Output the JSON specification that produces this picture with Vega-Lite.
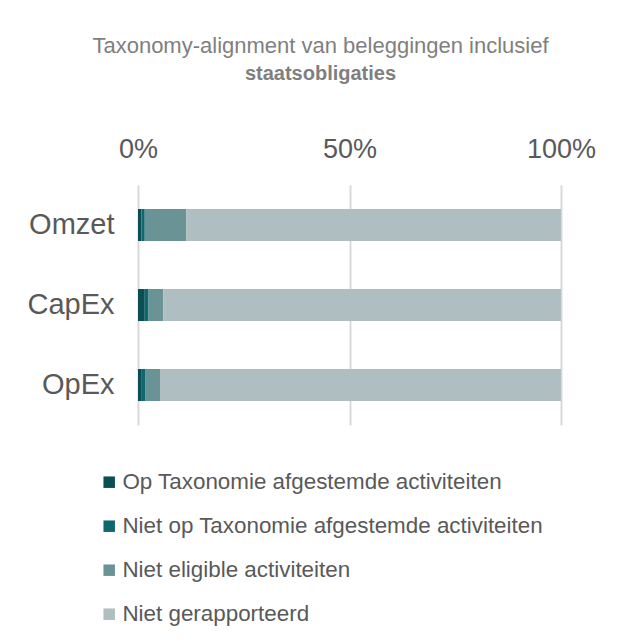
{
  "$schema": "https://vega.github.io/schema/vega-lite/v6.json",
  "autosize": "none",
  "width": 423,
  "height": 240,
  "padding": {"left": 138, "top": 185, "right": 68, "bottom": 218},
  "background": "white",
  "title": {
    "text": "Taxonomy-alignment van beleggingen inclusief",
    "subtitle": "staatsobligaties",
    "anchor": "middle",
    "frame": "group",
    "dx": -29,
    "font": "Arial",
    "fontSize": 22,
    "fontWeight": "normal",
    "color": "#7f7f7f",
    "subtitleFont": "Arial",
    "subtitleFontSize": 20,
    "subtitleFontWeight": "bold",
    "subtitleColor": "#7f7f7f",
    "subtitlePadding": 6,
    "offset": 50
  },
  "data": {
    "values": [
      {"cat": "Omzet", "serie": "Op Taxonomie afgestemde activiteiten", "ord": 1, "v": 0.8},
      {"cat": "Omzet", "serie": "Niet op Taxonomie afgestemde activiteiten", "ord": 2, "v": 0.8},
      {"cat": "Omzet", "serie": "Niet eligible activiteiten", "ord": 3, "v": 9.8},
      {"cat": "Omzet", "serie": "Niet gerapporteerd", "ord": 4, "v": 88.6},
      {"cat": "CapEx", "serie": "Op Taxonomie afgestemde activiteiten", "ord": 1, "v": 1.6},
      {"cat": "CapEx", "serie": "Niet op Taxonomie afgestemde activiteiten", "ord": 2, "v": 0.9},
      {"cat": "CapEx", "serie": "Niet eligible activiteiten", "ord": 3, "v": 3.5},
      {"cat": "CapEx", "serie": "Niet gerapporteerd", "ord": 4, "v": 94.0},
      {"cat": "OpEx", "serie": "Op Taxonomie afgestemde activiteiten", "ord": 1, "v": 0.9},
      {"cat": "OpEx", "serie": "Niet op Taxonomie afgestemde activiteiten", "ord": 2, "v": 0.9},
      {"cat": "OpEx", "serie": "Niet eligible activiteiten", "ord": 3, "v": 3.4},
      {"cat": "OpEx", "serie": "Niet gerapporteerd", "ord": 4, "v": 94.8}
    ]
  },
  "mark": {"type": "bar"},
  "encoding": {
    "y": {
      "field": "cat",
      "type": "nominal",
      "sort": ["Omzet", "CapEx", "OpEx"],
      "scale": {"paddingInner": 0.6, "paddingOuter": 0.3},
      "axis": {
        "title": null,
        "domain": false,
        "ticks": false,
        "labelFont": "Arial",
        "labelFontSize": 29,
        "labelColor": "#595959",
        "labelPadding": 24
      }
    },
    "x": {
      "field": "v",
      "type": "quantitative",
      "stack": "normalize",
      "scale": {"domain": [0, 1]},
      "axis": {
        "orient": "top",
        "title": null,
        "values": [0, 0.5, 1],
        "format": ".0%",
        "domain": false,
        "ticks": false,
        "grid": true,
        "gridColor": "#d9d9d9",
        "gridWidth": 2,
        "labelFlush": false,
        "labelFont": "Arial",
        "labelFontSize": 27,
        "labelColor": "#595959",
        "labelPadding": 22
      }
    },
    "order": {"field": "ord", "type": "quantitative"},
    "color": {
      "field": "serie",
      "type": "nominal",
      "sort": ["Op Taxonomie afgestemde activiteiten", "Niet op Taxonomie afgestemde activiteiten", "Niet eligible activiteiten", "Niet gerapporteerd"],
      "scale": {
        "domain": ["Op Taxonomie afgestemde activiteiten", "Niet op Taxonomie afgestemde activiteiten", "Niet eligible activiteiten", "Niet gerapporteerd"],
        "range": ["#0b4f55", "#0f686e", "#6a9396", "#aebec1"]
      },
      "legend": {
        "title": null,
        "orient": "none",
        "legendX": -40,
        "legendY": 286,
        "direction": "vertical",
        "symbolType": "square",
        "symbolSize": 132,
        "symbolStrokeWidth": 0,
        "labelFont": "Arial",
        "labelFontSize": 22.4,
        "labelColor": "#595959",
        "labelOffset": 2,
        "rowPadding": 21,
        "labelLimit": 560
      }
    }
  },
  "config": {"view": {"stroke": null}}
}
